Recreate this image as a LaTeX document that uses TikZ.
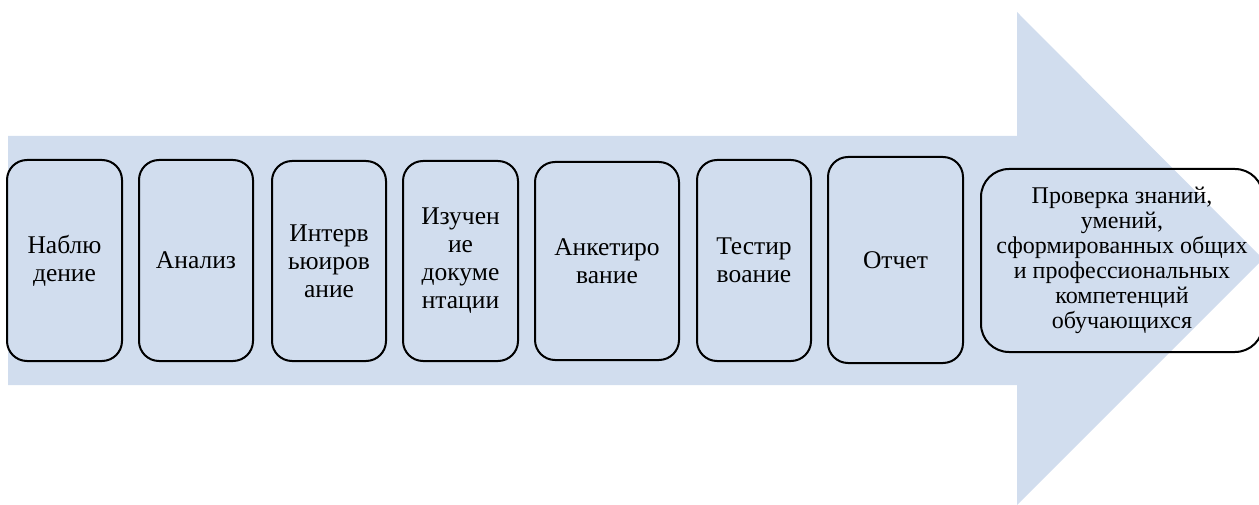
\documentclass[tikz,border=0pt]{standalone}
\usepackage{fontspec}
\setmainfont{Liberation Serif}
\begin{document}
\begin{tikzpicture}[x=1pt,y=-1pt,
  stage/.style={draw=black,line width=2pt,rounded corners=20pt,align=center,
    font=\fontsize{25.5}{28}\selectfont,inner sep=0pt,anchor=center},
  widestage/.style={stage,rounded corners=28pt,font=\fontsize{24}{25}\selectfont}]
\definecolor{arrowblue}{RGB}{209,221,238}
\useasboundingbox (0,0) rectangle (1259,505);
\fill[arrowblue] (8,136) -- (1017,136) -- (1017,12) -- (1263,259) -- (1017,505) -- (1017,385) -- (8,385) -- cycle;
\node[stage,minimum width=115pt,minimum height=201pt] (n1) at (64.5,260.5) {Наблю\\дение};
\node[stage,minimum width=114pt,minimum height=201pt] (n2) at (196,260.5) {Анализ};
\node[stage,minimum width=114pt,minimum height=200pt] (n3) at (329,261) {Интерв\\ьюиров\\ание};
\node[stage,minimum width=115pt,minimum height=200pt] (n4) at (460.5,261) {Изучен\\ие\\докуме\\нтации};
\node[stage,minimum width=144pt,minimum height=198pt] (n5) at (607,261) {Анкетиро\\вание};
\node[stage,minimum width=114pt,minimum height=201pt] (n6) at (754,260.5) {Тестир\\воание};
\node[stage,minimum width=135pt,minimum height=206pt] (n7) at (895.5,260) {Отчет};
\node[widestage,minimum width=282pt,minimum height=183pt] (n8) at (1122,260.5) {Проверка знаний,\\умений,\\сформированных общих\\и профессиональных\\компетенций\\обучающихся};
\end{tikzpicture}
\end{document}
